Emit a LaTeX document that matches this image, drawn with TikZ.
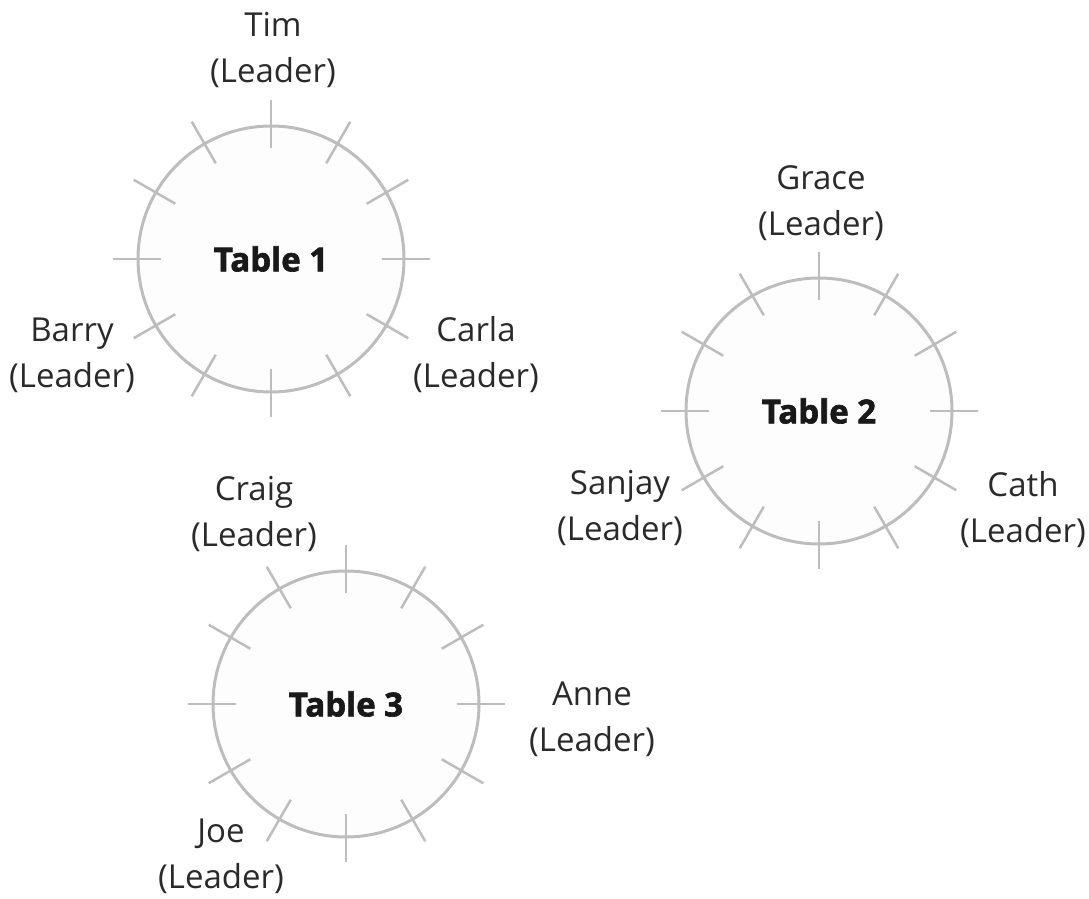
\documentclass[tikz,border=0pt]{standalone}
\usepackage{fontspec}
\setmainfont{Open Sans}
\newfontfamily\heavyfont{Open Sans}[BoldFeatures={FakeBold=2}]
\definecolor{tablegray}{HTML}{BDBDBD}
\definecolor{tablefill}{HTML}{FDFDFD}
\definecolor{labelgray}{HTML}{2A2A2A}
\begin{document}
\begin{tikzpicture}[x=1pt,y=1pt,
  tbl/.style={circle, draw=tablegray, line width=3pt, fill=tablefill,
    minimum size=266pt, inner sep=0pt, text=black!90,
    font=\heavyfont\fontsize{33}{38}\selectfont\bfseries},
  seat/.style={draw=tablegray, line width=2.5pt},
  lbl/.style={align=center, text=labelgray, inner sep=0pt,
    font=\fontsize{33}{46}\selectfont}]
\useasboundingbox (0,0) rectangle (1089,899);
% tables
\node[tbl] (t1) at (271,640) {Table 1};
\node[tbl] (t2) at (819,488) {Table 2};
\node[tbl] (t3) at (346,195) {Table 3};
% seats
\foreach \t in {t1,t2,t3}{
  \foreach \a in {0,30,...,330}{
    \draw[seat] ([shift={(\a:-24)}]\t.\a) -- ([shift={(\a:24)}]\t.\a);
  }
}
% leaders
\node[lbl] (tim)    at (273,849) {Tim\\(Leader)};
\node[lbl] (barry)  at (72,544)  {Barry\\(Leader)};
\node[lbl] (carla)  at (476,544) {Carla\\(Leader)};
\node[lbl] (grace)  at (821,696) {Grace\\(Leader)};
\node[lbl] (sanjay) at (620,391) {Sanjay\\(Leader)};
\node[lbl] (cath)   at (1023,389){Cath\\(Leader)};
\node[lbl] (craig)  at (254,385) {Craig\\(Leader)};
\node[lbl] (anne)   at (592,180) {Anne\\(Leader)};
\node[lbl] (joe)    at (221,43)  {Joe\\(Leader)};
\end{tikzpicture}
\end{document}
